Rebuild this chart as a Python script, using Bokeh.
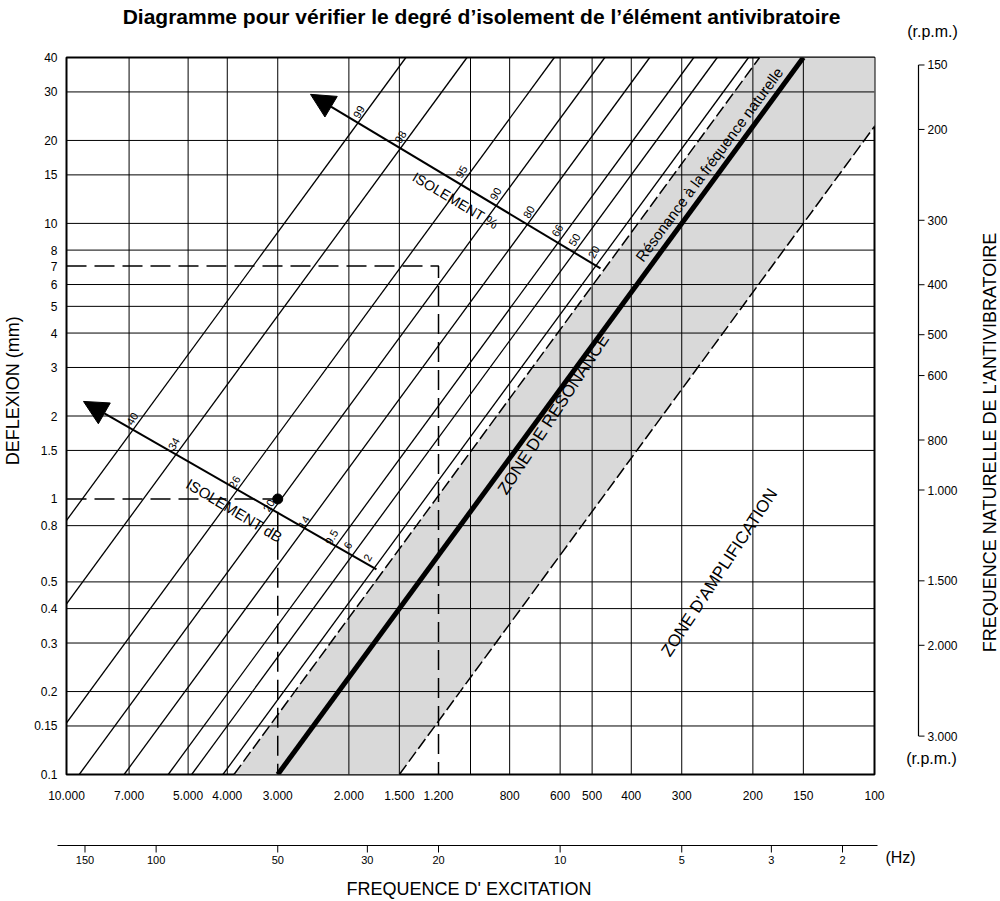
import numpy as np
from bokeh.plotting import figure
from bokeh.models import Range1d, FixedTicker, Arrow, NormalHead
from bokeh.layouts import row, column
from bokeh.embed import file_html
from bokeh.resources import INLINE
from bokeh.core.properties import value

FONT = "Liberation Sans"

# ---------------- data ----------------
rpm_ticks = [10000, 7000, 5000, 4000, 3000, 2000, 1500, 1200, 800, 600, 500, 400, 300, 200, 150, 100]
rpm_tick_labels = ["10.000", "7.000", "5.000", "4.000", "3.000", "2.000", "1.500", "1.200",
                   "800", "600", "500", "400", "300", "200", "150", "100"]
rpm_grid = [7000, 5000, 4000, 2000, 1500, 1000, 800, 600, 500, 400, 300, 200, 150]
mm_ticks = [40, 30, 20, 15, 10, 8, 7, 6, 5, 4, 3, 2, 1.5, 1, 0.8, 0.5, 0.4, 0.3, 0.2, 0.15, 0.1]
mm_tick_labels = ["40", "30", "20", "15", "10", "8", "7", "6", "5", "4", "3", "2", "1.5", "1",
                  "0.8", "0.5", "0.4", "0.3", "0.2", "0.15", "0.1"]
mm_grid = [30, 20, 15, 10, 8, 6, 5, 4, 3, 2, 1.5, 0.8, 0.5, 0.4, 0.3, 0.2, 0.15]
fn_ticks = [150, 200, 300, 400, 500, 600, 800, 1000, 1500, 2000, 3000]
fn_tick_labels = ["150", "200", "300", "400", "500", "600", "800", "1.000", "1.500", "2.000", "3.000"]
hz_ticks = [150, 100, 50, 30, 20, 10, 5, 3, 2]
hz_tick_labels = ["150", "100", "50", "30", "20", "10", "5", "3", "2"]

# isolation lines: excitation rpm where each line meets 0.1 mm deflection
iso_pct_labels = ["99", "98", "95", "90", "80", "66", "50", "20"]
iso_db_labels = ["40", "34", "26", "20", "14", "9.5", "6", "2"]
iso_line_rpm = [28900, 20400, 12400, 9300, 7200, 5600, 4900, 4100]

# resonance line (natural frequency): 3000 rpm at 0.1 mm, 150 rpm at 40 mm
res_rpm = [3000, 150]
res_mm = [0.1, 40]
# resonance zone boundaries (rpm at 0.1 mm)
zone_left_rpm = 3850
zone_right_rpm = 1500

# worked examples
ex_rpm = [[10000, 1200, 1200], [10000, 3000, 3000]]
ex_mm = [[7, 7, 0.1], [1, 1, 0.1]]
dot_rpm = [3000]
dot_mm = [1]

# arrows (rpm, mm)
pct_arrow = dict(x_start=476.7, y_start=6.87, x_end=2489, y_end=29.4)
db_arrow = dict(x_start=1709, y_start=0.555, x_end=9077, y_end=2.259)

# label positions along arrows
pct_lab_rpm = [1890, 1491, 1053, 867, 717, 610, 553, 495]
pct_lab_mm = [25.4, 20.6, 15.4, 12.8, 11.0, 9.43, 8.73, 7.87]
db_lab_rpm = [6877, 5426, 3840, 3157, 2586, 2208, 2012, 1799]
db_lab_mm = [1.955, 1.586, 1.151, 0.947, 0.824, 0.727, 0.678, 0.613]

# texts inside the chart
in_text = ["ISOLEMENT %", "ISOLEMENT dB", "Résonance à  la fréquence naturelle",
           "ZONE DE RESONANCE", "ZONE D'AMPLIFICATION"]
in_rpm = [1089, 3840, 254.7, 623, 242]
in_mm = [12.1, 0.908, 16.6, 2.03, 0.541]
in_angle = [-0.54, -0.54, 0.934, 0.99, 0.99]
in_size = ["14px", "15px", "15px", "17px", "17px"]

shift = fn_ticks[0] / fn_ticks[-1]  # factor between 0.1 mm and 40 mm along a line
mm_lo, mm_hi = mm_ticks[-1], mm_ticks[0]

# ---------------- layout geometry (pixels) ----------------
W = 998
TOP_H = 49
MID_H = 766
BOT_H = 84
DL_W = 24
P_W = 864
RT_W = W - DL_W - P_W
FRAME_L, FRAME_T, FRAME_W, FRAME_H = 66, 57, 808, 717

common = dict(toolbar_location=None, output_backend="svg")


def blank(width, height, x_range, y_range, y_type="linear", x_type="linear"):
    f = figure(width=width, height=height, x_range=x_range, y_range=y_range,
               x_axis_type=x_type, y_axis_type=y_type,
               x_axis_location=None, y_axis_location=None, min_border=0, **common)
    f.outline_line_color = None
    f.grid.visible = False
    return f


def txt(f, x, y, t, size, **kw):
    f.text(x=x, y=y, text=t, text_font=value(FONT), text_font_size=value(size),
           text_color="black", **kw)


# ---------------- main figure ----------------
p = figure(width=P_W, height=MID_H, x_axis_type="log", y_axis_type="log",
           x_range=Range1d(rpm_ticks[0], rpm_ticks[-1]), y_range=Range1d(mm_lo, mm_hi),
           min_border_left=FRAME_L - DL_W, min_border_right=P_W - (FRAME_L - DL_W) - FRAME_W,
           min_border_top=FRAME_T - TOP_H, min_border_bottom=MID_H - (FRAME_T - TOP_H) - FRAME_H,
           **common)
p.grid.visible = False
p.outline_line_color = "black"
p.outline_line_width = 2

xa = p.xaxis[0]
xa.ticker = FixedTicker(ticks=rpm_ticks)
xa.major_label_overrides = {t: l for t, l in zip(rpm_ticks, rpm_tick_labels)}
ya = p.yaxis[0]
ya.ticker = FixedTicker(ticks=mm_ticks)
ya.major_label_overrides = {t: l for t, l in zip(mm_ticks, mm_tick_labels)}
for ax, so in ((xa, 10), (ya, 3)):
    ax.major_tick_line_color = None
    ax.major_tick_out = 6
    ax.minor_tick_line_color = None
    ax.axis_line_color = None
    ax.major_label_standoff = so
    ax.major_label_text_font = FONT
    ax.major_label_text_font_size = "12px"
    ax.major_label_text_color = "black"

# grey resonance zone
p.patch(x=[zone_left_rpm, zone_left_rpm * shift, zone_right_rpm * shift, zone_right_rpm],
        y=[mm_lo, mm_hi, mm_hi, mm_lo], fill_color="#d9d9d9", line_color=None)

# grid
p.segment(x0=rpm_grid, x1=rpm_grid, y0=[mm_lo] * len(rpm_grid), y1=[mm_hi] * len(rpm_grid),
          line_color="black", line_width=1)
p.segment(x0=[rpm_ticks[0]] * len(mm_grid), x1=[rpm_ticks[-1]] * len(mm_grid), y0=mm_grid, y1=mm_grid,
          line_color="black", line_width=1)
p.segment(x0=dot_rpm, x1=dot_rpm, y0=dot_mm, y1=[mm_hi], line_color="black", line_width=1)

# isolation lines
p.segment(x0=iso_line_rpm, y0=[mm_lo] * len(iso_line_rpm),
          x1=[r * shift for r in iso_line_rpm], y1=[mm_hi] * len(iso_line_rpm),
          line_color="black", line_width=1.3)

# zone boundaries
p.segment(x0=[zone_left_rpm, zone_right_rpm], y0=[mm_lo, mm_lo],
          x1=[zone_left_rpm * shift, zone_right_rpm * shift], y1=[mm_hi, mm_hi],
          line_color="black", line_width=1.5, line_dash="12 4")

# resonance line
p.line(x=res_rpm, y=res_mm, line_color="black", line_width=5)

# examples
p.multi_line(xs=ex_rpm, ys=ex_mm, line_color="black", line_width=1.5, line_dash="20 8")
p.scatter(x=dot_rpm, y=dot_mm, size=10, color="black")

# arrows
for a in (pct_arrow, db_arrow):
    p.add_layout(Arrow(end=NormalHead(size=24, fill_color="black", line_color="black"),
                       line_color="black", line_width=2, **a))

# numbers along arrows
txt(p, pct_lab_rpm, pct_lab_mm, iso_pct_labels, "11px", angle=1.05,
    text_align="center", text_baseline="middle")
txt(p, db_lab_rpm, db_lab_mm, iso_db_labels, "11px", angle=1.05,
    text_align="center", text_baseline="middle")

# inside texts
for t, xx, yy, an, sz in zip(in_text, in_rpm, in_mm, in_angle, in_size):
    txt(p, [xx], [yy], [t], sz, angle=an, text_align="center", text_baseline="middle")

# ---------------- title strip ----------------
t_fig = blank(W, TOP_H, Range1d(0, W), Range1d(TOP_H, 0))
t_fig.text(x=[481], y=[16], text=["Diagramme pour vérifier le degré d’isolement de l’élément antivibratoire"],
           text_font=value(FONT), text_font_size=value("21px"), text_font_style="bold",
           text_align="center", text_baseline="middle", text_color="black")
txt(t_fig, [932], [31], ["(r.p.m.)"], "16px", text_align="center", text_baseline="middle")

# ---------------- left label strip ----------------
dl = blank(DL_W, MID_H, Range1d(0, DL_W), Range1d(TOP_H + MID_H, TOP_H))
txt(dl, [12], [405], ["DEFLEXION (mm)"], "18px", angle=np.pi / 2,
    text_align="center", text_baseline="middle")

# ---------------- right axis strip (natural frequency, log scale) ----------------
dec_fn = FRAME_H / np.log10(fn_ticks[-1] / fn_ticks[0])
fn_bottom = fn_ticks[-1] * 10 ** ((TOP_H + MID_H - (FRAME_T + FRAME_H)) / dec_fn)
fn_top = fn_ticks[0] * 10 ** (-(FRAME_T - TOP_H) / dec_fn)
x0r = DL_W + P_W
rt = blank(RT_W, MID_H, Range1d(x0r, W), Range1d(fn_bottom, fn_top), y_type="log")
ax_x = 918
rt.segment(x0=[ax_x], x1=[ax_x], y0=[fn_ticks[0]], y1=[fn_ticks[-1]], line_color="black", line_width=1.2)
rt.segment(x0=[ax_x] * len(fn_ticks), x1=[ax_x + 6] * len(fn_ticks), y0=fn_ticks, y1=fn_ticks,
           line_color="black", line_width=1)
txt(rt, [ax_x + 9] * len(fn_ticks), fn_ticks, fn_tick_labels, "12px",
    text_align="left", text_baseline="middle")
txt(rt, [931], [fn_ticks[-1] * 10 ** ((798 - (FRAME_T + FRAME_H)) / dec_fn)], ["(r.p.m.)"], "16px",
    text_align="center", text_baseline="middle")
txt(rt, [989], [fn_ticks[0] * 10 ** ((455 - FRAME_T) / dec_fn)],
    ["FREQUENCE  NATURELLE  DE L'ANTIVIBRATOIRE"], "18px", angle=np.pi / 2,
    text_align="center", text_baseline="middle")

# ---------------- bottom strip (Hz axis, log scale) ----------------
dec_rpm = FRAME_W / np.log10(rpm_ticks[0] / rpm_ticks[-1])


def hz_at(px):
    return rpm_ticks[0] / 60 * 10 ** (-(px - FRAME_L) / dec_rpm)


y_top = TOP_H + MID_H
b = blank(W, BOT_H, Range1d(hz_at(0), hz_at(W)), Range1d(y_top + BOT_H, y_top), x_type="log")
line_y = 845
b.segment(x0=[hz_at(57)], x1=[hz_at(877)], y0=[line_y], y1=[line_y], line_color="black", line_width=1.2)
b.segment(x0=hz_ticks, x1=hz_ticks, y0=[line_y] * len(hz_ticks), y1=[line_y + 7] * len(hz_ticks),
          line_color="black", line_width=1)
txt(b, hz_ticks, [line_y + 14] * len(hz_ticks), hz_tick_labels, "11px",
    text_align="center", text_baseline="middle")
txt(b, [hz_at(900)], [857], ["(Hz)"], "16px", text_align="center", text_baseline="middle")
txt(b, [hz_at(471)], [888], ["FREQUENCE  D' EXCITATION"], "18px", text_align="center", text_baseline="middle")

layout = column(t_fig, row(dl, p, rt), b)
open("out.html", "w", encoding="utf-8").write(file_html(layout, INLINE))
